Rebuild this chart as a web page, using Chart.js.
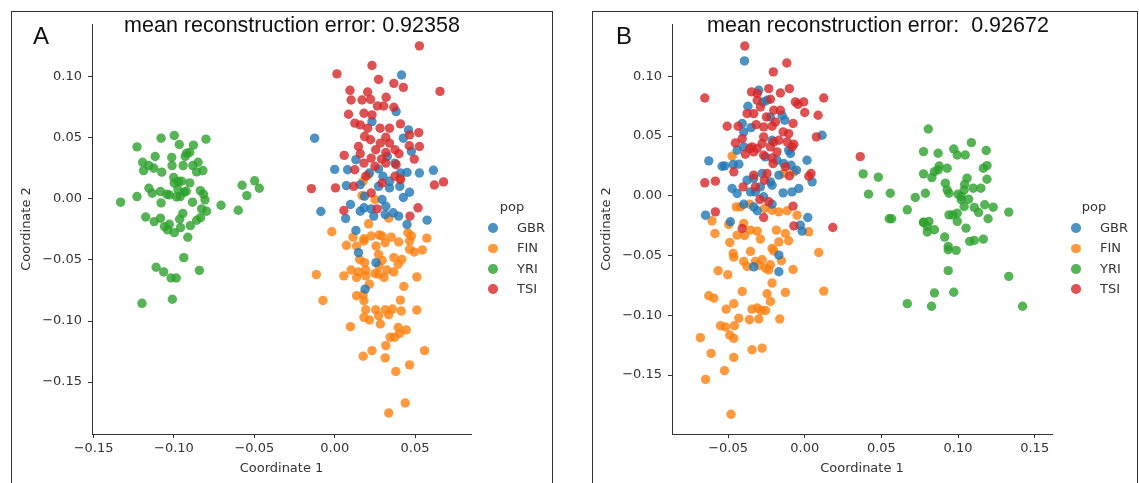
<!DOCTYPE html>
<html lang="en">
<head>
<meta charset="UTF-8">
<title>mean reconstruction error - A / B</title>
<script src="https://cdn.jsdelivr.net/npm/chart.js"></script>
<style>
  body { margin: 0; background: #fff; width: 1139px; height: 483px; overflow: hidden; position: relative; font-family: "DejaVu Sans", sans-serif; }
  .frame { position: absolute; top: 11px; height: 480px; border: 1.5px solid #333; border-bottom: none; }
  canvas { position: absolute; top: 0; }
  .title { position: absolute; top: 15px; font-family: "Liberation Sans", Arial, sans-serif; font-size: 21.5px; line-height: 1; color: #111; white-space: pre; transform: translateX(-50%); }
  .tag { position: absolute; top: 24px; font-family: "Liberation Sans", Arial, sans-serif; font-size: 24px; line-height: 1; color: #111; }
  .leg { position: absolute; font-size: 13px; line-height: 1; color: #333; }
  .leg span { position: absolute; white-space: nowrap; }
  .leg i { position: absolute; width: 9.5px; height: 9.5px; border-radius: 50%; }
</style>
</head>
<body>
  <div class="frame" style="left:11px; width:540px;"></div>
  <div class="frame" style="left:592px; width:544px;"></div>

  <canvas id="chartA" width="560" height="483" style="left:0"></canvas>
  <canvas id="chartB" width="549" height="483" style="left:590px"></canvas>

  <div class="tag" style="left:33px">A</div>
  <div class="tag" style="left:616px">B</div>
  <div class="title" style="left:292px">mean reconstruction error: 0.92358</div>
  <div class="title" style="left:878px">mean reconstruction error:  0.92672</div>

  <div class="leg" id="legA" style="left:0; top:0"></div>
  <div class="leg" id="legB" style="left:0; top:0"></div>

<script>
// populations (legend order)
const pops = ['GBR', 'FIN', 'YRI', 'TSI'];
const popColors = ['rgba(31,119,180,0.8)', 'rgba(255,127,14,0.8)', 'rgba(44,160,44,0.8)', 'rgba(214,39,40,0.8)'];

// tick labels
const xTicksA = [-0.15, -0.10, -0.05, 0.00, 0.05];
const yTicksA = [-0.15, -0.10, -0.05, 0.00, 0.05, 0.10];
const xTicksB = [-0.05, 0.00, 0.05, 0.10, 0.15];
const yTicksB = [-0.15, -0.10, -0.05, 0.00, 0.05, 0.10];

// ---- panel A: [coordinate 1, coordinate 2]
const gbrA = [[0.0416,0.1014],[0.0382,0.0715],[-0.0125,0.0497],[0.0427,0.0497],[0.0459,0.0565],[0.0477,0.0389],[0.0232,0.0633],
  [0.0,0.0242],[0.008,0.0239],[0.0132,0.0321],[0.0273,0.0245],[0.0216,0.0212],[0.045,0.0217],[0.0527,0.0212],[0.0614,0.0234],
  [0.0073,0.0109],[0.0159,0.0117],[0.0273,0.0103],[0.0341,0.009],[0.0405,0.0103],[0.0466,0.0054],[0.0427,0.0011],[0.0186,0.0022],
  [0.0295,-0.0005],[0.0098,-0.0046],[-0.0086,-0.0103],[0.0159,-0.0101],[0.0227,-0.0082],[0.0318,-0.006],[0.0364,-0.0114],
  [0.0182,-0.0073],[0.0068,-0.016],[0.0243,-0.0141],[0.0314,-0.0128],[0.0398,-0.0141],[0.0575,-0.0174],[0.045,-0.0209],
  [0.0132,-0.0258],[0.0148,-0.044],[0.0257,-0.0522],[0.0189,-0.0739],[0.03,0.0185],[0.0341,0.0144],[0.0375,0.0293],
  [0.0327,0.0348],[0.0409,0.0212]];

const finA = [[0.0209,0.0198],[0.0177,0.0144],[0.017,0.0027],[0.025,-0.0005],[0.0409,0.0171],[0.0336,-0.0158],[0.0211,-0.0204],
  [-0.0018,-0.0269],[0.0114,-0.0313],[0.0182,-0.0326],[0.0227,-0.0304],[0.0277,-0.0296],[0.0295,-0.0304],[0.0352,-0.0313],
  [0.0455,-0.0277],[0.0477,-0.0304],[0.0573,-0.0321],[0.0073,-0.038],[0.0136,-0.0386],[0.0182,-0.0345],[0.0257,-0.0386],
  [0.0314,-0.0359],[0.0398,-0.0353],[0.0466,-0.0345],[0.0466,-0.0413],[0.0545,-0.0418],[0.0495,-0.0435],[0.0273,-0.0454],
  [0.0368,-0.0481],[0.0418,-0.0495],[0.0395,-0.0535],[0.0155,-0.0495],[0.0186,-0.0522],[0.0295,-0.0503],[0.0275,-0.0549],
  [0.0102,-0.0582],[0.0148,-0.0598],[0.0193,-0.0582],[0.0325,-0.0582],[0.0368,-0.0598],[0.025,-0.0611],[0.0057,-0.063],
  [0.0136,-0.0644],[0.0193,-0.063],[0.0273,-0.0617],[0.0307,-0.0644],[-0.0114,-0.062],[0.0511,-0.0639],[0.0216,-0.0698],
  [0.043,-0.0717],[-0.0073,-0.0832],[0.0136,-0.0793],[0.0177,-0.0785],[0.0182,-0.0834],[0.0409,-0.0829],[0.0193,-0.0908],
  [0.0255,-0.0908],[0.0314,-0.0908],[0.0359,-0.0902],[0.0414,-0.0918],[0.0511,-0.091],[0.0182,-0.097],[0.0216,-0.0992],
  [0.0273,-0.0957],[0.0336,-0.0948],[0.0098,-0.1046],[0.0284,-0.1024],[0.0395,-0.1052],[0.0445,-0.1073],[0.0405,-0.1101],
  [0.0373,-0.1133],[0.0345,-0.1133],[0.0318,-0.1201],[0.0232,-0.1242],[0.0177,-0.1288],[0.0314,-0.1302],[0.0559,-0.1242],
  [0.038,-0.1413],[0.0466,-0.1359],[0.0439,-0.1671],[0.0336,-0.1753]];

const yriA = [[-0.1332,-0.0027],[-0.123,0.0426],[-0.123,0.0019],[-0.1195,0.030],[-0.1189,0.0232],[-0.1156,0.0273],[-0.1125,0.0251],
  [-0.1117,0.0347],[-0.1076,0.0219],[-0.108,0.0497],[-0.0998,0.0519],[-0.0967,0.0445],[-0.1014,0.0339],[-0.1012,0.0273],
  [-0.0943,0.0273],[-0.0922,0.0374],[-0.0902,0.038],[-0.0879,0.044],[-0.0801,0.0489],[-0.085,0.030],[-0.0883,0.0273],
  [-0.0859,0.0221],[-0.082,0.0232],[-0.093,0.0347],[-0.1156,0.0087],[-0.1135,0.0046],[-0.1084,0.006],[-0.1045,0.0038],
  [-0.1029,0.0033],[-0.1002,0.0175],[-0.0998,0.0128],[-0.0973,0.0142],[-0.0953,0.0145],[-0.0902,0.0131],[-0.0984,0.0016],
  [-0.0961,0.0019],[-0.0936,0.0055],[-0.0924,0.0063],[-0.0836,0.0068],[-0.0816,0.0038],[-0.0807,-0.0008],[-0.108,-0.0033],
  [-0.0885,-0.0027],[-0.0828,-0.0082],[-0.0797,-0.0101],[-0.0707,-0.0052],[-0.06,-0.0093],[-0.0576,0.0112],[-0.0547,0.0027],
  [-0.0498,0.0148],[-0.0469,0.0087],[-0.1176,-0.0148],[-0.1123,-0.0186],[-0.1084,-0.0158],[-0.1059,-0.0227],[-0.1029,-0.0208],
  [-0.1039,-0.0254],[-0.0998,-0.0276],[-0.0965,-0.0167],[-0.0945,-0.012],[-0.0959,-0.0235],[-0.0898,-0.0219],[-0.0859,-0.0175],
  [-0.0834,-0.0153],[-0.0914,-0.0314],[-0.0939,-0.0481],[-0.1111,-0.056],[-0.1064,-0.0598],[-0.1018,-0.0648],[-0.0986,-0.0648],
  [-0.0842,-0.0585],[-0.1199,-0.0855],[-0.101,-0.0822],[-0.0975,0.0077]];

const tsiA = [[0.0527,0.1253],[0.0232,0.1092],[0.0014,0.1024],[0.0273,0.0978],[0.0368,0.0946],[0.0427,0.0913],[0.0655,0.088],
  [0.0095,0.0889],[0.0205,0.0875],[0.0102,0.081],[0.017,0.081],[0.0223,0.0815],[0.032,0.0832],[0.0305,0.0761],[0.0266,0.0761],
  [0.0368,0.075],[0.0086,0.0693],[0.0182,0.0701],[0.0232,0.0688],[0.0125,0.062],[0.0159,0.0606],[0.0205,0.0579],[0.0282,0.0579],
  [0.0341,0.0579],[0.0409,0.0614],[0.0523,0.0543],[0.0466,0.0524],[0.0186,0.0511],[0.0223,0.0484],[0.0318,0.0505],[0.0148,0.0429],
  [0.0284,0.0457],[0.0341,0.0457],[0.0255,0.0402],[0.0375,0.0402],[0.0527,0.0429],[0.0464,0.0435],[0.04,0.037],[0.0318,0.038],
  [0.0159,0.037],[0.0059,0.0356],[0.0227,0.0334],[0.0291,0.0326],[0.0495,0.0326],[0.0382,0.028],[0.0182,0.0293],[0.0125,0.0239],
  [0.025,0.0266],[0.0318,0.0293],[0.0193,0.0185],[0.0375,0.0185],[0.0409,0.0158],[0.0295,0.013],[0.0118,0.0103],[0.0005,0.009],
  [-0.0145,0.0084],[0.062,0.0114],[0.0677,0.0139],[0.0227,0.0049],[0.0264,-0.0082],[0.0057,-0.0095],[0.0518,-0.0073],[0.0468,-0.0141]];

// ---- panel B
const gbrB = [[-0.0393,0.1129],[-0.0371,0.075],[-0.030,0.0883],[-0.0271,0.0786],[-0.0246,0.08],[-0.0398,0.0535],[-0.0408,0.0605],
  [-0.035,0.0571],[-0.0224,0.066],[-0.0148,0.0674],[-0.013,0.0633],[0.0113,0.0507],[-0.0626,0.0293],[-0.0539,0.0248],[-0.0522,0.0251],
  [-0.0467,0.0262],[-0.043,0.0265],[-0.0441,0.0382],[-0.0398,0.041],[-0.0213,0.0465],[-0.0105,0.0382],[-0.0093,0.0354],[0.0015,0.0298],
  [-0.0376,0.0131],[-0.0333,0.0145],[-0.0278,0.0187],[-0.0224,0.0117],[-0.0169,0.0173],[-0.0137,0.027],[-0.0089,0.0256],[-0.0054,0.0215],
  [-0.0474,0.0061],[-0.0441,0.002],[-0.0354,0.0033],[-0.0322,0.0033],[-0.0289,0.0075],[-0.0268,-0.0008],[-0.0213,0.0089],[-0.0141,0.0025],
  [-0.0083,0.0033],[-0.0039,0.0061],[0.0048,0.0117],[-0.0398,-0.007],[-0.0333,-0.0092],[-0.031,-0.0125],[-0.0213,-0.007],[-0.0647,-0.0162],
  [-0.0485,-0.0217],[-0.0029,-0.0245],[-0.0017,-0.0295],[0.002,-0.0181],[-0.0333,-0.0594],[-0.0169,-0.0635],[-0.0169,-0.0496],
  [-0.0257,0.0326],[-0.0181,0.0298]];

const finB = [[-0.0474,0.0332],[-0.0071,0.0201],[-0.0137,0.0187],[-0.0447,-0.0092],[-0.042,-0.0092],[-0.0359,-0.007],[-0.0263,-0.0106],
  [-0.0213,-0.012],[-0.0169,-0.0134],[-0.0115,-0.0125],[-0.005,-0.0162],[-0.0605,-0.0209],[-0.0586,-0.0315],[-0.0496,-0.024],
  [-0.0398,-0.0231],[-0.0441,-0.0329],[-0.0393,-0.0332],[-0.0354,-0.0287],[-0.031,-0.0295],[-0.0289,-0.0362],[-0.0185,-0.0287],
  [-0.0126,-0.0315],[-0.0105,-0.0376],[-0.0169,-0.0385],[0.0026,-0.0301],[-0.0489,-0.039],[-0.0467,-0.0482],[-0.0463,-0.0513],
  [-0.0354,-0.0465],[-0.0398,-0.0549],[-0.0376,-0.0591],[-0.0322,-0.0549],[-0.0278,-0.0535],[-0.030,-0.0582],[-0.0256,-0.0605],
  [-0.0224,-0.0577],[-0.0235,-0.0619],[-0.0213,-0.044],[-0.0202,-0.046],[-0.0152,-0.0543],[-0.0076,-0.0616],[0.0091,-0.0474],
  [0.0124,-0.0797],[-0.0565,-0.0627],[-0.0502,-0.066],[-0.0213,-0.073],[-0.0408,-0.08],[-0.0246,-0.0819],[-0.0126,-0.0808],
  [-0.0626,-0.0836],[-0.0593,-0.0856],[-0.0224,-0.0884],[-0.0463,-0.0903],[-0.0513,-0.0948],[-0.0344,-0.0948],[-0.031,-0.0939],
  [-0.0285,-0.0959],[-0.0256,-0.0959],[-0.043,-0.1023],[-0.0361,-0.1037],[-0.030,-0.1031],[-0.0163,-0.1031],[-0.055,-0.1087],
  [-0.0517,-0.1098],[-0.0459,-0.1087],[-0.0489,-0.1165],[-0.0463,-0.1193],[-0.0681,-0.1187],[-0.0611,-0.1318],[-0.0463,-0.1352],
  [-0.0344,-0.1288],[-0.0278,-0.1274],[-0.0524,-0.1463],[-0.0647,-0.1536],[-0.0481,-0.1828]];

const yriB = [[0.0806,0.0559],[0.1087,0.0445],[0.0775,0.037],[0.087,0.0356],[0.0972,0.0392],[0.0995,0.0342],[0.1047,0.0342],
  [0.1184,0.0379],[0.0929,0.0231],[0.0877,0.025],[0.0846,0.0203],[0.0775,0.0184],[0.0829,0.0153],[0.1165,0.0231],[0.1189,0.0253],
  [0.1189,0.0139],[0.0381,0.0184],[0.048,0.0156],[0.0416,0.0014],[0.0558,0.0022],[0.0721,-0.0014],[0.0787,0.0022],[0.0917,0.0106],
  [0.0929,0.005],[0.0941,0.0022],[0.1,0.0014],[0.1043,0.0097],[0.1059,0.0148],[0.104,0.005],[0.1099,0.0064],[0.1149,0.0064],
  [0.1021,-0.0033],[0.1069,-0.0028],[0.104,-0.0089],[0.1106,-0.0097],[0.1174,-0.0075],[0.1229,-0.0095],[0.1134,-0.0139],
  [0.1196,-0.0192],[0.1331,-0.0136],[0.0669,-0.0117],[0.0551,-0.0192],[0.0567,-0.0192],[0.0941,-0.0159],[0.0965,-0.0159],
  [0.0995,-0.0145],[0.0995,-0.0214],[0.1052,-0.027],[0.0775,-0.0223],[0.081,-0.0214],[0.0799,-0.0256],[0.0846,-0.0284],
  [0.0799,-0.0303],[0.0913,-0.0345],[0.0936,-0.0423],[0.0936,-0.0451],[0.0988,-0.0456],[0.1076,-0.0381],[0.1106,-0.0373],
  [0.1165,-0.0362],[0.0936,-0.0626],[0.1331,-0.0674],[0.0846,-0.0813],[0.0972,-0.0807],[0.0669,-0.0902],[0.0827,-0.0924],
  [0.1421,-0.0924],[0.087,0.0217],[0.1021,-0.0006],[0.0775,-0.022]];

const tsiB = [[-0.0391,0.1254],[-0.0117,0.1112],[-0.0205,0.1037],[-0.0652,0.0819],[-0.0347,0.087],[-0.031,0.0856],[-0.0235,0.0897],
  [-0.0159,0.0861],[-0.01,0.0897],[0.0124,0.0819],[-0.031,0.08],[-0.0289,0.0744],[-0.0224,0.0808],[-0.0061,0.0786],[-0.0044,0.0766],
  [-0.0007,0.0786],[0.0,0.0697],[0.0087,0.0674],[-0.0376,0.0688],[-0.0333,0.0688],[-0.025,0.066],[-0.0202,0.0716],[-0.0159,0.0716],
  [-0.0506,0.0582],[-0.0435,0.0582],[-0.0317,0.0596],[-0.0268,0.0577],[-0.0213,0.0582],[-0.0191,0.0619],[-0.0076,0.0605],
  [-0.0141,0.0535],[-0.0105,0.0521],[0.0076,0.0493],[-0.0452,0.0443],[-0.0408,0.0479],[-0.0344,0.041],[-0.031,0.0396],
  [-0.0278,0.0438],[-0.0268,0.0493],[-0.0224,0.041],[-0.0202,0.0452],[-0.0169,0.0465],[-0.0115,0.0452],[-0.0083,0.041],
  [-0.0071,0.0432],[-0.0387,0.0348],[-0.0333,0.0368],[-0.0268,0.034],[-0.0213,0.0318],[-0.0181,0.0368],[-0.0463,0.0201],
  [-0.0126,0.0242],[-0.0333,0.0173],[-0.0246,0.0187],[-0.01,0.0167],[0.0026,0.0164],[0.0041,0.0187],[-0.0652,0.0109],
  [-0.0583,0.0123],[-0.0402,0.0075],[-0.0322,0.0075],[-0.0263,0.0131],[-0.0293,-0.0031],[-0.0235,-0.005],[-0.0076,-0.0086],
  [-0.0583,-0.0134],[-0.0268,-0.0181],[-0.0071,-0.0251],[-0.0408,-0.0273],[0.0183,-0.0265],[0.0362,0.0328],[-0.0359,0.0396],
  [-0.0207,0.027]];

const fmt = v => (v < 0 ? '\u2212' : '') + Math.abs(v).toFixed(2);
const tickFont = { family: 'DejaVu Sans', size: 13 };
const ink = '#333';

function makePanel(id, sets, xRange, yRange, xTicks, yTicks, yAxisW, padRight, yTitlePad) {
  const order = [1, 2, 3, 0]; // TSI on top, then GBR
  new Chart(document.getElementById(id), {
    type: 'scatter',
    data: {
      datasets: sets.map((pts, i) => ({
        label: pops[i],
        data: pts.map(p => ({ x: p[0], y: p[1] })),
        backgroundColor: popColors[i],
        borderWidth: 0,
        pointRadius: 4.7,
        pointHoverRadius: 4.7,
        order: order[i]
      }))
    },
    options: {
      responsive: false,
      animation: false,
      events: [],
      layout: { padding: { top: 24, right: padRight, left: 0, bottom: 0 } },
      plugins: { legend: { display: false }, tooltip: { enabled: false } },
      scales: {
        x: {
          type: 'linear', min: xRange[0], max: xRange[1],
          afterBuildTicks: s => { s.ticks = xTicks.map(v => ({ value: v })); },
          afterFit: s => { s.height = 49; },
          ticks: { font: tickFont, color: ink, padding: 3, maxRotation: 0, autoSkip: false, callback: fmt },
          grid: { drawOnChartArea: false, drawTicks: true, tickLength: 4, color: ink },
          border: { display: true, color: ink, width: 1 },
          title: { display: true, text: 'Coordinate 1', font: tickFont, color: ink, padding: { top: 0, bottom: 7 } }
        },
        y: {
          type: 'linear', min: yRange[0], max: yRange[1],
          afterBuildTicks: s => { s.ticks = yTicks.map(v => ({ value: v })); },
          afterFit: s => { s.width = yAxisW; },
          ticks: { font: tickFont, color: ink, padding: 6, autoSkip: false, callback: fmt },
          grid: { drawOnChartArea: false, drawTicks: true, tickLength: 4, color: ink },
          border: { display: true, color: ink, width: 1 },
          title: { display: true, text: 'Coordinate 2', font: tickFont, color: ink, padding: { top: yTitlePad, bottom: 0 } }
        }
      }
    }
  });
}

function makeLegend(id, markerX, textX, titleX) {
  const el = document.getElementById(id);
  let html = `<span style="left:${titleX}px; top:200px; transform:translateX(-50%)">pop</span>`;
  pops.forEach((p, i) => {
    const cy = 228 + i * 20.4;
    html += `<i style="left:${markerX - 4.75}px; top:${cy - 4.75}px; background:${popColors[i]}"></i>`;
    html += `<span style="left:${textX}px; top:${cy - 7}px">${p}</span>`;
  });
  el.innerHTML = html;
}

makePanel('chartA', [gbrA, finA, yriA, tsiA], [-0.151, 0.0848], [-0.1925, 0.1432], xTicksA, yTicksA, 92, 89, 19);
makePanel('chartB', [gbrB, finB, yriB, tsiB], [-0.0866, 0.1613], [-0.1993, 0.1438], xTicksB, yTicksB, 82, 87, 9);
makeLegend('legA', 493, 517, 512);
makeLegend('legB', 1076, 1100, 1094);
</script>
</body>
</html>
